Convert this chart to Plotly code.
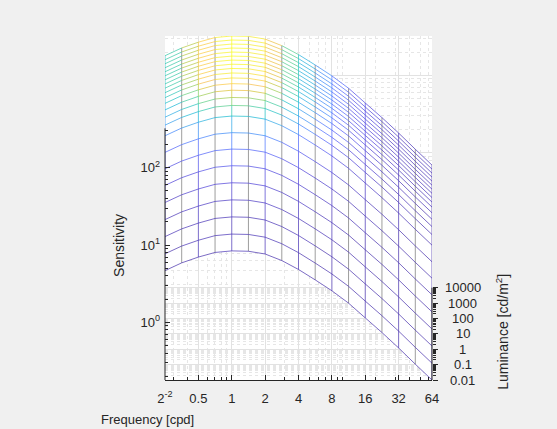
import math
import plotly.graph_objects as go

# ---------------- data ----------------
freq = [0.25, 0.3536, 0.5, 0.7071, 1.0, 1.414, 2.0, 2.828, 4.0, 5.657,
        8.0, 11.31, 16.0, 22.63, 32.0, 45.25, 64.0]
# relative sensitivity (CSF shape, peak = 1) at each frequency
rel_sens = [0.556, 0.700, 0.832, 0.955, 1.0, 0.989, 0.912, 0.750, 0.575,
            0.422, 0.305, 0.211, 0.136, 0.088, 0.0556, 0.0343, 0.0214]
# luminance levels [cd/m^2]
lum = [0.01, 0.0182, 0.0332, 0.0606, 0.110, 0.201, 0.367, 0.669, 1.22,
       2.22, 4.06, 7.39, 13.5, 24.6, 44.8, 81.7, 149, 272, 495, 903,
       1650, 3000, 5480, 10000]
# peak sensitivity at each luminance level
peak_sens = [8.4, 12.3, 18.2, 26.8, 39.6, 58.4, 85, 123, 179, 218, 245,
             270, 291, 306, 315, 320, 322, 323, 323, 323, 323, 323, 323, 323]

freq_ticks = [0.25, 0.5, 1, 2, 4, 8, 16, 32, 64]
freq_ticktext = ["2<sup>-2</sup>", "0.5", "1", "2", "4", "8", "16", "32", "64"]
freq_minor = [0.3, 0.4, 0.6, 0.7, 0.8, 0.9, 3, 5, 6, 7, 9, 10, 20, 30, 40, 50, 60]
sens_ticks = [1, 10, 100]
sens_ticktext = ["10<sup>0</sup>", "10<sup>1</sup>", "10<sup>2</sup>"]
sens_minor = [m * 10 ** e for e in range(-1, 3) for m in range(2, 10) if m * 10 ** e <= 300]
lum_ticks = [0.01, 0.1, 1, 10, 100, 1000, 10000]
lum_ticktext = ["0.01", "0.1", "1", "10", "100", "1000", "10000"]
lum_minor = [m * 10 ** e for e in range(-2, 4) for m in range(2, 10)]

# ---------------- view / style ----------------
VIEW_TILT = 0.199          # screen decades per luminance decade (3-D elevation)
LINE_ALPHA = 0.68
COLOR_GAMMA = 1.3
AX = "#262626"
FONT = "Liberation Sans, Arial, sans-serif"
PARULA = [(62, 38, 168), (69, 55, 213), (72, 77, 240), (69, 99, 253),
          (50, 124, 252), (43, 145, 239), (32, 165, 227), (8, 181, 208),
          (25, 191, 182), (55, 200, 151), (100, 205, 111), (157, 201, 67),
          (209, 191, 39), (248, 186, 61), (252, 207, 48), (245, 233, 36),
          (249, 251, 21)]
NBINS = 64


def parula(t):
    t = min(max(t, 0.0), 1.0) * (len(PARULA) - 1)
    i = min(int(t), len(PARULA) - 2)
    f = t - i
    a, b = PARULA[i], PARULA[i + 1]
    return tuple(round(a[j] + (b[j] - a[j]) * f) for j in range(3))


# sensitivity surface and its projected (front-view) height
S = [[p * r for r in rel_sens] for p in peak_sens]
depth = [(L / lum[0]) ** VIEW_TILT for L in lum]
Y = [[s * d for s in row] for row, d in zip(S, depth)]
nL, nF = len(lum), len(freq)

smin = min(min(r) for r in S)
smax = max(max(r) for r in S)
y_lo = math.log10(smin)
y_hi = math.log10(max(max(r) for r in Y))
span = y_hi - y_lo
y2_range = [math.log10(lum[0]), math.log10(lum[0]) + span / VIEW_TILT]
back = math.log10(depth[-1])
y3_range = [y_lo - back, y_hi - back]

fig = go.Figure()

# white surface (hides grid behind the mesh)
px = freq + [freq[-1]] * nL + freq[::-1] + [freq[0]] * nL
py = Y[0] + [Y[k][-1] for k in range(nL)] + Y[-1][::-1] + [Y[k][0] for k in range(nL)][::-1]
fig.add_trace(go.Scatter(x=px, y=py, mode="lines", fill="toself",
                         fillcolor="white", line=dict(width=0),
                         hoverinfo="skip", showlegend=False))

bins = {}
gray = ([], [])


def add_seg(store, x0, y0, x1, y1):
    store[0].extend([x0, x1, None])
    store[1].extend([y0, y1, None])


def cbin(c):
    t = ((c - smin) / (smax - smin)) ** COLOR_GAMMA
    return round(t * (NBINS - 1))


for k in range(nL):
    for i in range(nF - 1):
        b = cbin((S[k][i] + S[k][i + 1]) / 2)
        add_seg(bins.setdefault(b, ([], [])), freq[i], Y[k][i], freq[i + 1], Y[k][i + 1])
for i in range(nF):
    for k in range(nL - 1):
        if i % 2 == 1:
            add_seg(gray, freq[i], Y[k][i], freq[i], Y[k + 1][i])
        else:
            b = cbin((S[k][i] + S[k + 1][i]) / 2)
            add_seg(bins.setdefault(b, ([], [])), freq[i], Y[k][i], freq[i], Y[k + 1][i])

fig.add_trace(go.Scatter(x=gray[0], y=gray[1], mode="lines",
                         line=dict(color="rgba(105,105,105,0.65)", width=1),
                         hoverinfo="skip", showlegend=False))
for b in sorted(bins):
    r, g, bl = parula(b / (NBINS - 1))
    fig.add_trace(go.Scatter(x=bins[b][0], y=bins[b][1], mode="lines",
                             line=dict(color=f"rgba({r},{g},{bl},{LINE_ALPHA})", width=1),
                             hoverinfo="skip", showlegend=False))

# dummy traces so the overlaid axes are drawn
fig.add_trace(go.Scatter(x=[freq[0]], y=[lum[0]], yaxis="y2", mode="markers",
                         marker=dict(opacity=0), hoverinfo="skip", showlegend=False))
fig.add_trace(go.Scatter(x=[freq[0]], y=[1], yaxis="y3", mode="markers",
                         marker=dict(opacity=0), hoverinfo="skip", showlegend=False))

grid_major = "#e2e2e2"
grid_minor = "#e6e6e6"
tickfont = dict(family=FONT, size=13, color=AX)

fig.update_layout(
    width=557, height=429,
    margin=dict(l=165, r=125, t=36, b=49),
    paper_bgcolor="#f0f0f0", plot_bgcolor="white",
    font=dict(family=FONT, size=13, color=AX),
    showlegend=False,
    xaxis=dict(type="log", range=[math.log10(freq[0]), math.log10(freq[-1])],
               tickmode="array", tickvals=freq_ticks, ticktext=freq_ticktext,
               ticks="inside", ticklen=5, tickcolor=AX, tickwidth=1,
               showline=True, linecolor=AX, linewidth=1,
               showgrid=True, gridcolor=grid_major, gridwidth=1,
               zeroline=False, tickfont=tickfont, ticklabelstandoff=6,
               minor=dict(tickmode="array", tickvals=freq_minor, ticks="inside",
                          ticklen=3, tickcolor=AX, showgrid=True,
                          gridcolor=grid_minor, griddash="dot")),
    yaxis=dict(type="log", range=[y_lo, y_hi],
               tickmode="array", tickvals=sens_ticks, ticktext=sens_ticktext,
               ticks="inside", ticklen=5, tickcolor=AX, showline=False,
               showgrid=False, zeroline=False, tickfont=tickfont,
               ticklabelstandoff=4,
               minor=dict(tickmode="array", tickvals=sens_minor, ticks="inside",
                          ticklen=3, tickcolor=AX, showgrid=False)),
    yaxis2=dict(type="log", overlaying="y", side="right", range=y2_range,
                tickmode="array", tickvals=lum_ticks, showticklabels=False,
                ticks="outside", ticklen=5, tickcolor=AX, showline=False,
                showgrid=True, gridcolor=grid_major, zeroline=False,
                minor=dict(tickmode="array", tickvals=lum_minor, ticks="outside",
                           ticklen=3, tickcolor=AX, showgrid=True,
                           gridcolor=grid_minor, griddash="dot")),
    yaxis3=dict(type="log", overlaying="y", range=y3_range,
                tickmode="array", tickvals=sens_ticks, showticklabels=False,
                ticks="", showline=False, showgrid=True, gridcolor=grid_major,
                zeroline=False,
                minor=dict(tickmode="array", tickvals=sens_minor, ticks="",
                           showgrid=True, gridcolor=grid_minor, griddash="dot")),
)

# axis lines that only span the data extent (front-left and front-right edges)
left_top = (math.log10(smax) - y_lo) / span
right_top = (math.log10(lum[-1]) - y2_range[0]) / (y2_range[1] - y2_range[0])
fig.add_shape(type="line", xref="paper", yref="paper", x0=0, x1=0, y0=0, y1=left_top,
              line=dict(color=AX, width=1))
fig.add_shape(type="line", xref="paper", yref="paper", x0=1, x1=1, y0=0, y1=right_top,
              line=dict(color=AX, width=1))

# luminance tick labels, centred like the original
for v, t in zip(lum_ticks, lum_ticktext):
    fig.add_annotation(text=t, xref="paper", yref="y2", x=1.116, y=math.log10(v),
                       xanchor="center", yanchor="middle", showarrow=False,
                       font=tickfont)

# axis titles
fig.add_annotation(text="Sensitivity", xref="paper", yref="paper",
                   x=-0.172, y=0.39, textangle=-90, showarrow=False,
                   xanchor="center", yanchor="middle",
                   font=dict(family=FONT, size=14, color=AX))
fig.add_annotation(text="Frequency [cpd]", xref="paper", yref="paper",
                   x=-0.067, y=-0.116, showarrow=False,
                   xanchor="center", yanchor="middle",
                   font=dict(family=FONT, size=13, color=AX))
fig.add_annotation(text="Luminance [cd/m<sup>2</sup>]", xref="paper", yref="paper",
                   x=1.262, y=0.14, textangle=-90, showarrow=False,
                   xanchor="center", yanchor="middle",
                   font=dict(family=FONT, size=14, color=AX))

fig.write_html("out.html")
